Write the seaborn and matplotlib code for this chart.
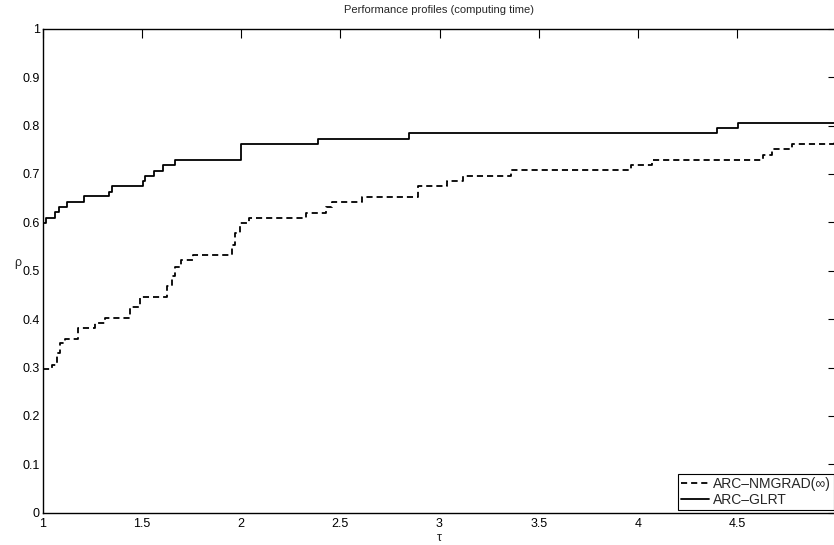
import numpy as np
import pandas as pd
import matplotlib
matplotlib.use("Agg")
import matplotlib.pyplot as plt
import seaborn as sns

# step breakpoints (tau, rho)
glrt_tau = [1.0, 1.018, 1.063, 1.085, 1.122, 1.21, 1.337, 1.35, 1.506, 1.515, 1.56, 1.605,
            1.67, 2.0, 2.388, 2.844, 4.396, 4.506, 5.0]
glrt_rho = [0.599, 0.608, 0.621, 0.632, 0.642, 0.654, 0.663, 0.676, 0.686, 0.696, 0.707, 0.719,
            0.729, 0.762, 0.772, 0.784, 0.795, 0.805, 0.805]

nmgrad_tau = [1.0, 1.046, 1.075, 1.09, 1.114, 1.18, 1.265, 1.316, 1.442, 1.49, 1.627, 1.652,
              1.67, 1.70, 1.76, 1.955, 1.972, 1.997, 2.04, 2.326, 2.427, 2.46, 2.609, 2.89,
              3.04, 3.117, 3.361, 3.967, 4.07, 4.632, 4.674, 4.775, 4.986, 5.0]
nmgrad_rho = [0.296, 0.305, 0.33, 0.35, 0.359, 0.382, 0.391, 0.403, 0.426, 0.446, 0.468, 0.49,
              0.508, 0.522, 0.532, 0.553, 0.577, 0.599, 0.609, 0.619, 0.632, 0.642, 0.653, 0.674,
              0.686, 0.696, 0.708, 0.718, 0.729, 0.739, 0.751, 0.762, 0.772, 0.772]

x_ticks = [1, 1.5, 2, 2.5, 3, 3.5, 4, 4.5, 5]
y_ticks = [0, 0.1, 0.2, 0.3, 0.4, 0.5, 0.6, 0.7, 0.8, 0.9, 1]

sns.set_style("white")
plt.rcParams['font.family'] = ['Liberation Sans', 'DejaVu Sans']
plt.rcParams['font.size'] = 9

fig = plt.figure(figsize=(8.34, 5.45), dpi=100)
# axes runs slightly past the right edge, as in the original (cropped) figure
ax = fig.add_axes([42.5 / 834, 32.3 / 545, 794 / 834, 484 / 545])

nm = pd.DataFrame({'tau': nmgrad_tau, 'rho': nmgrad_rho})
gl = pd.DataFrame({'tau': glrt_tau, 'rho': glrt_rho})
sns.lineplot(data=nm, x='tau', y='rho', ax=ax, color='k', linestyle='--',
             drawstyle='steps-post', lw=1.3, sort=False, estimator=None,
             label='ARC\u2013NMGRAD(\u221e)')
sns.lineplot(data=gl, x='tau', y='rho', ax=ax, color='k', drawstyle='steps-post',
             lw=1.3, sort=False, estimator=None, label='ARC\u2013GLRT')
ax.lines[0].set_dashes([3.4, 2.2])

ax.set_xlim(1, 5)
ax.set_ylim(0, 1)
ax.set_xticks(x_ticks)
ax.set_yticks(y_ticks)
ax.set_xticklabels([f'{v:g}' for v in x_ticks])
ax.set_yticklabels([f'{v:g}' for v in y_ticks])
ax.tick_params(direction='in', length=6.5, width=0.8, top=True, right=True,
               labelsize=9, colors='k')
ax.tick_params(axis='x', pad=4)
ax.tick_params(axis='y', pad=2)
for s in ax.spines.values():
    s.set_color('k')
    s.set_linewidth(1.0)

ax.set_title('Performance profiles (computing time)', fontsize=8, pad=11)
ax.set_xlabel('\u03c4', fontsize=9, labelpad=1)
ax.xaxis.set_label_coords(0.5, -0.039)
ax.set_ylabel('\u03c1', fontsize=9, rotation=0, ha='center', va='center')
ax.yaxis.set_label_coords(-0.031, 0.516)

leg = ax.legend(loc='lower right', fontsize=10, frameon=True, fancybox=False,
                edgecolor='k', framealpha=1, borderaxespad=0.2, handlelength=2.0,
                borderpad=0.2, labelspacing=0.15, handletextpad=0.3)
leg.get_frame().set_linewidth(0.8)
leg.get_lines()[0].set_dashes([3.4, 2.2])

fig.savefig('out.png', dpi=100)
